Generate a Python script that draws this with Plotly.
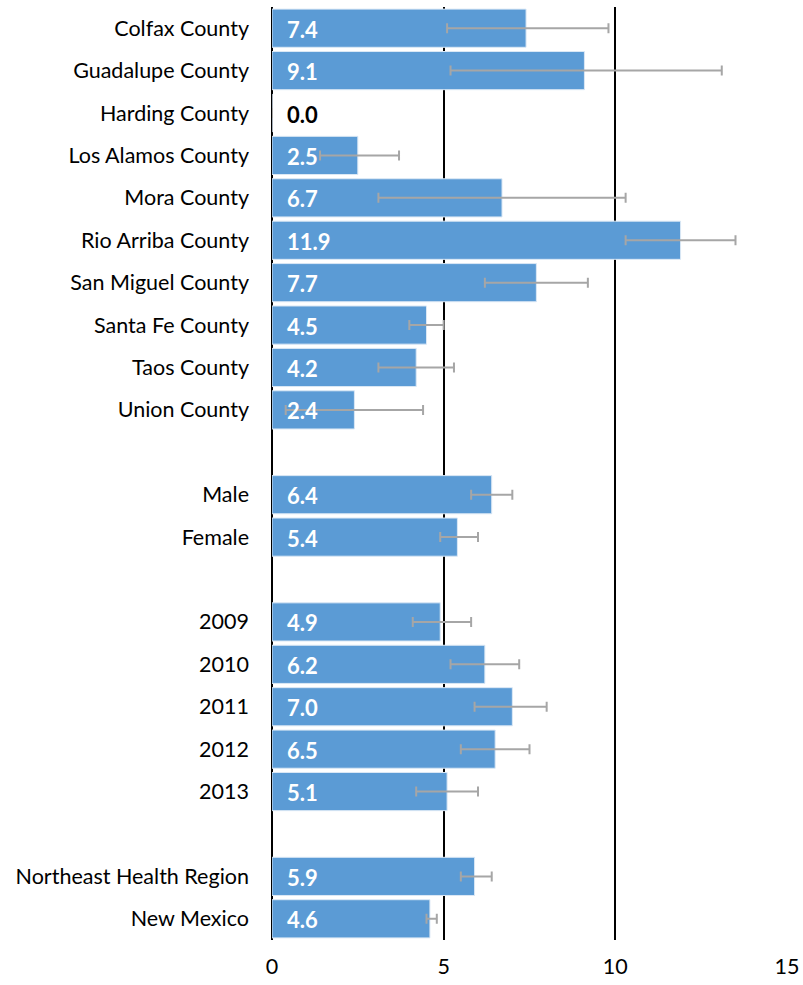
import plotly.graph_objects as go

# groups of rows; a blank row separates each group
county_labels = ["Colfax County", "Guadalupe County", "Harding County", "Los Alamos County",
                 "Mora County", "Rio Arriba County", "San Miguel County", "Santa Fe County",
                 "Taos County", "Union County"]
county_values = [7.4, 9.1, 0.0, 2.5, 6.7, 11.9, 7.7, 4.5, 4.2, 2.4]
county_low = [5.1, 5.2, None, 1.4, 3.1, 10.3, 6.2, 4.0, 3.1, 0.4]
county_high = [9.8, 13.1, None, 3.7, 10.3, 13.5, 9.2, 5.0, 5.3, 4.4]

sex_labels = ["Male", "Female"]
sex_values = [6.4, 5.4]
sex_low = [5.8, 4.9]
sex_high = [7.0, 6.0]

year_labels = ["2009", "2010", "2011", "2012", "2013"]
year_values = [4.9, 6.2, 7.0, 6.5, 5.1]
year_low = [4.1, 5.2, 5.9, 5.5, 4.2]
year_high = [5.8, 7.2, 8.0, 7.5, 6.0]

region_labels = ["Northeast Health Region", "New Mexico"]
region_values = [5.9, 4.6]
region_low = [5.5, 4.5]
region_high = [6.4, 4.8]

x_ticks = [0, 5, 10, 15]

groups = [
    (county_labels, county_values, county_low, county_high),
    (sex_labels, sex_values, sex_low, sex_high),
    (year_labels, year_values, year_low, year_high),
    (region_labels, region_values, region_low, region_high),
]

labels, values, lows, highs, ypos = [], [], [], [], []
pos = 0
for g_labels, g_vals, g_low, g_high in groups:
    for lab, v, lo, hi in zip(g_labels, g_vals, g_low, g_high):
        labels.append(lab)
        values.append(v)
        lows.append(lo)
        highs.append(hi)
        ypos.append(pos)
        pos += 1
    pos += 1  # blank spacer row
last_row = ypos[-1]

err_plus = [(hi - v) if hi is not None else 0 for v, hi in zip(values, highs)]
err_minus = [(v - lo) if lo is not None else 0 for v, lo in zip(values, lows)]

FONT = "Lato"
BAR_COLOR = "#5B9BD5"

fig = go.Figure()

fig.add_trace(go.Bar(
    x=values, y=ypos, orientation="h",
    marker=dict(color=BAR_COLOR, line=dict(color="#dbe8f5", width=1)),
    error_x=dict(type="data", symmetric=False, array=err_plus, arrayminus=err_minus,
                 color="#A6A6A6", thickness=2, width=5),
    hoverinfo="x+y",
    showlegend=False,
))

# value labels at the base of each bar
for v, y in zip(values, ypos):
    fig.add_annotation(
        x=0, y=y, xref="x", yref="y",
        text=f"<b>{v:.1f}</b>",
        showarrow=False, xanchor="left", yanchor="middle", xshift=13, yshift=-1,
        font=dict(family=FONT, size=22, color="white" if v > 0 else "black"),
    )

fig.update_layout(
    width=803, height=985,
    margin=dict(l=272, r=16, t=7, b=45),
    plot_bgcolor="white", paper_bgcolor="white",
    bargap=0.1,
    font=dict(family=FONT, size=21.5, color="black"),
    xaxis=dict(
        range=[0, 15], tickvals=x_ticks, showgrid=True, gridcolor="black", gridwidth=2,
        zeroline=True, zerolinecolor="black", zerolinewidth=2,
        showline=False, ticks="", ticklabelstandoff=11, automargin=False,
        tickfont=dict(family=FONT, size=21.5),
    ),
    yaxis=dict(
        range=[last_row + 0.5, -0.5], tickvals=ypos, ticktext=labels,
        showgrid=False, zeroline=False, showline=False, ticks="",
        ticklabelstandoff=22, automargin=False,
        tickfont=dict(family=FONT, size=21.5),
    ),
)

# drop the default page margin so the figure fills the window exactly
fig.write_html(
    "out.html",
    config={"displayModeBar": False},
    post_script="document.body.style.margin='0px';document.body.style.overflow='hidden';",
)
